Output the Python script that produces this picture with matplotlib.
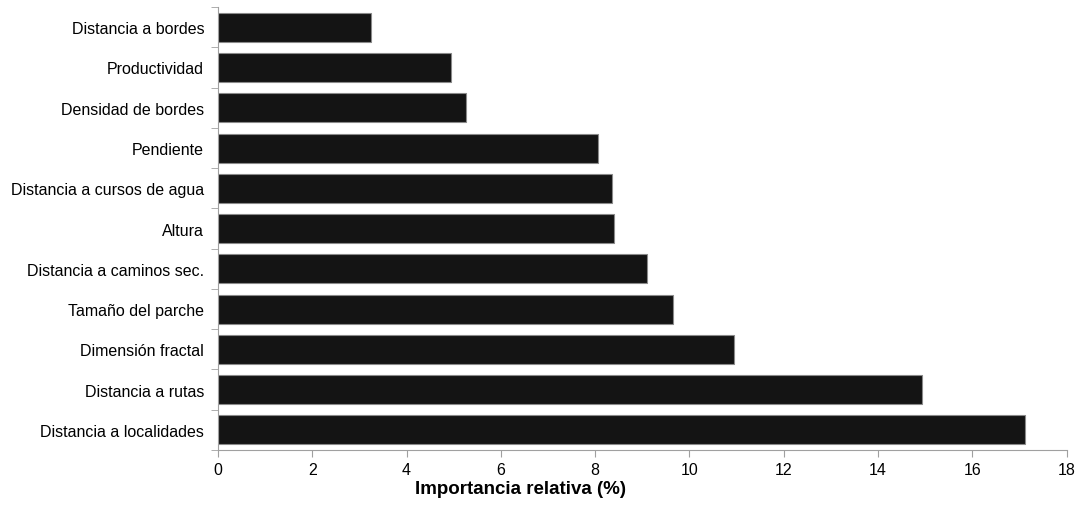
import numpy as np
import matplotlib.pyplot as plt
from matplotlib.ticker import FixedLocator

plt.rcParams['font.family'] = ['Liberation Sans', 'DejaVu Sans']

# data, bottom to top
variables = ["Distancia a localidades", "Distancia a rutas", "Dimensión fractal",
             "Tamaño del parche", "Distancia a caminos sec.", "Altura",
             "Distancia a cursos de agua", "Pendiente", "Densidad de bordes",
             "Productividad", "Distancia a bordes"]
importance = [17.11, 14.93, 10.94, 9.65, 9.09, 8.39, 8.36, 8.06, 5.27, 4.95, 3.25]
xticks = [0, 2, 4, 6, 8, 10, 12, 14, 16, 18]

fig = plt.figure(figsize=(10.82, 5.06), dpi=100)
ax = fig.add_axes([0.2015, 0.1087, 0.7843, 0.8753])

y = np.arange(len(variables))
ax.barh(y, importance, height=0.72, color='#141414', edgecolor='#8a8a8a', linewidth=0.8)

ax.set_xlim(0, 18)
ax.set_ylim(-0.5, len(variables) - 0.5)
ax.set_xticks(xticks)
ax.set_xticklabels([str(t) for t in xticks], fontsize=11.5)
ax.set_yticks(y)
ax.set_yticklabels(variables, fontsize=11.5)
ax.yaxis.set_minor_locator(FixedLocator(np.arange(-0.5, len(variables), 1.0)))
ax.tick_params(axis='y', which='major', length=0, pad=10)
ax.tick_params(axis='y', which='minor', length=5, color='#a0a0a0', direction='out')
ax.tick_params(axis='x', length=5, color='#a0a0a0', direction='out', pad=4)

for side in ['top', 'right']:
    ax.spines[side].set_visible(False)
for side in ['left', 'bottom']:
    ax.spines[side].set_color('#a0a0a0')

ax.set_xlabel("Importancia relativa (%)", fontsize=13.5, fontweight='bold')
ax.xaxis.set_label_coords((521 - 218) / 848.7, -0.068)

plt.savefig("out.png", dpi=100)
